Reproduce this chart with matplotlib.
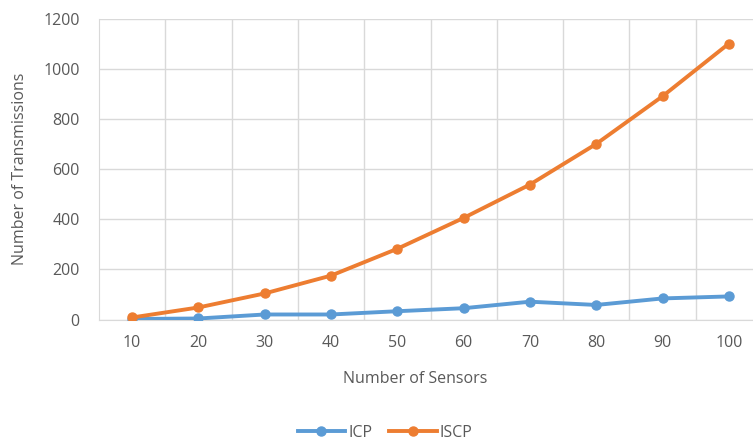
import matplotlib.pyplot as plt
from matplotlib.lines import Line2D

sensors = [10, 20, 30, 40, 50, 60, 70, 80, 90, 100]
icp = [2, 4, 20, 20, 33, 45, 71, 58, 84, 92]
iscp = [8, 48, 104, 175, 282, 405, 538, 700, 890, 1100]
y_ticks = [0, 200, 400, 600, 800, 1000, 1200]

blue = '#5B9BD5'
orange = '#ED7D31'
text_col = '#595959'

plt.rcParams['font.family'] = ['Open Sans', 'DejaVu Sans']

fig = plt.figure(figsize=(7.53, 4.47), dpi=100)
# plot area runs past the right edge of the figure
ax = fig.add_axes([99 / 753, 1 - 319.5 / 447, (762 - 99) / 753, (319.5 - 18.5) / 447])

pos = list(range(len(sensors)))
ax.plot(pos, icp, color=blue, lw=2.8, marker='o', ms=6.5, label='ICP',
        solid_capstyle='round', zorder=3)
ax.plot(pos, iscp, color=orange, lw=2.8, marker='o', ms=6.5, label='ISCP',
        solid_capstyle='round', zorder=3)

ax.set_xlim(-0.5, len(sensors) - 0.5)
ax.set_ylim(0, 1200)
ax.set_yticks(y_ticks)
ax.set_xticks(pos)
ax.set_xticklabels([str(s) for s in sensors])
ax.set_xticks([p + 0.5 for p in pos[:-1]], minor=True)

ax.grid(axis='y', which='major', color='#D9D9D9', lw=1)
ax.grid(axis='x', which='minor', color='#D9D9D9', lw=1)
ax.grid(axis='x', which='major', visible=False)
ax.set_axisbelow(True)
for s in ['top', 'right']:
    ax.spines[s].set_visible(False)
ax.spines['left'].set_color('#D9D9D9')
ax.spines['bottom'].set_color('#D9D9D9')
ax.tick_params(which='both', length=0, labelsize=11.5, labelcolor=text_col)
ax.tick_params(axis='y', pad=14)
ax.tick_params(axis='x', pad=11)

ax.set_xlabel('Number of Sensors', fontsize=11.5, color=text_col)
ax.set_ylabel('Number of Transmissions', fontsize=11.5, color=text_col)
ax.xaxis.label.set_verticalalignment('center')
ax.yaxis.label.set_verticalalignment('center')
ax.xaxis.set_label_coords((415 - 99) / 663, (319.5 - 379) / 301)
ax.yaxis.set_label_coords((20 - 99) / 663, 0.5)

handles = [Line2D([], [], color=blue, lw=2.8, marker='o', ms=6.5),
           Line2D([], [], color=orange, lw=2.8, marker='o', ms=6.5)]
fig.legend(handles, ['ICP', 'ISCP'], loc='center', bbox_to_anchor=(385 / 753, 1 - 433 / 447),
           ncol=2, frameon=False, fontsize=11.5, labelcolor=text_col,
           handlelength=3.0, handletextpad=0.2, columnspacing=1.0)

fig.savefig('out.png', dpi=100)
